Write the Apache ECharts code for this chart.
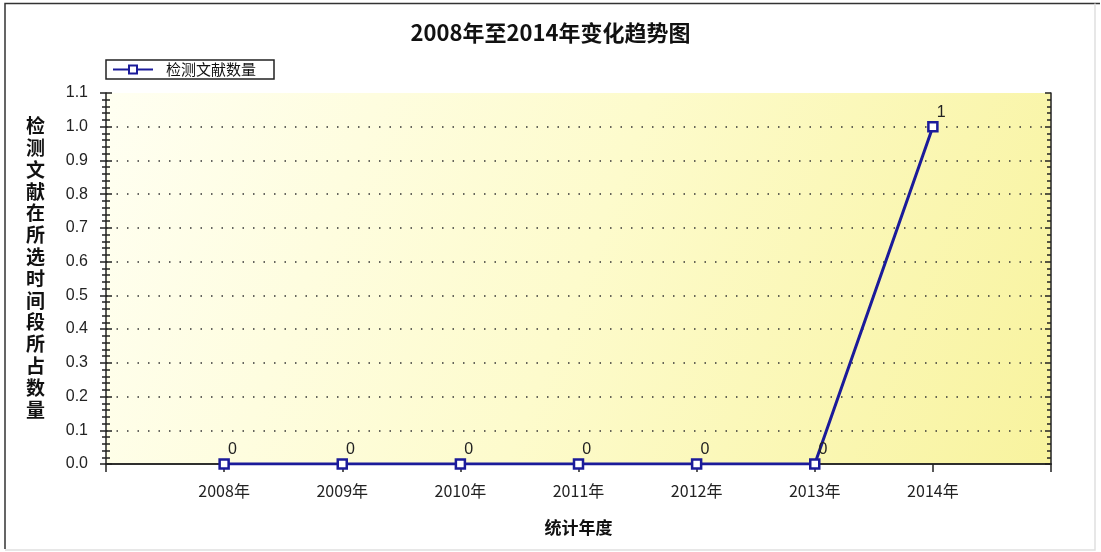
<!DOCTYPE html>
<html lang="zh-CN">
<head>
    <meta charset="UTF-8">
    <title>2008年至2014年变化趋势图</title>
    <script src="https://cdn.jsdelivr.net/npm/echarts@6/dist/echarts.min.js"></script>
    <style>
        html, body { margin: 0; padding: 0; background: #fff; }
        #main { width: 1101px; height: 552px; }
    </style>
</head>
<body>
<div id="main"></div>
<script type="text/javascript">
    // 数据
    var years = [2008, 2009, 2010, 2011, 2012, 2013, 2014];
    var counts = [0, 0, 0, 0, 0, 0, 1];
    var yTicks = ['0.0', '0.1', '0.2', '0.3', '0.4', '0.5', '0.6', '0.7', '0.8', '0.9', '1.0', '1.1'];
    var yName = '检测文献在所选时间段所占数量';

    var cjk = '"Noto Sans CJK SC", sans-serif';
    var num = '"Liberation Sans", Arial, sans-serif';

    var points = years.map(function (y, i) { return [y, counts[i]]; });

    var myChart = echarts.init(document.getElementById('main'));
    var option = {
        backgroundColor: '#fff',
        animation: false,
        title: {
            text: '2008年至2014年变化趋势图',
            left: 'center',
            top: 17,
            textStyle: { fontFamily: cjk, fontSize: 22, fontWeight: 'bold', color: '#111' }
        },
        legend: {
            left: 106,
            top: 60,
            data: ['检测文献数量'],
            itemWidth: 40,
            itemHeight: 10,
            itemGap: 4,
            padding: [2, 18, 2, 6],
            borderColor: '#222',
            borderWidth: 1.5,
            textStyle: { fontFamily: cjk, fontSize: 15, color: '#111', padding: [0, 0, 0, 8] }
        },
        graphic: [
            // 外框：左上深色，右下浅色
            {
                type: 'polyline',
                shape: { points: [[5, 549], [5, 3.5], [1100, 3.5]] },
                style: { fill: 'none', stroke: '#333', lineWidth: 1.5 },
                silent: true
            },
            {
                type: 'polyline',
                shape: { points: [[5, 550], [1095, 550], [1095, 3.5]] },
                style: { fill: 'none', stroke: '#e0e0e0', lineWidth: 1.5 },
                silent: true
            },
            {
                type: 'text',
                left: 26,
                top: 115,
                style: {
                    text: yName.split('').join('\n'),
                    fontFamily: cjk,
                    fontSize: 19,
                    fontWeight: 'bold',
                    lineHeight: 21.8,
                    fill: '#111'
                }
            }
        ],
        grid: {
            left: 106,
            right: 50,
            top: 93,
            bottom: 88,
            show: true,
            borderWidth: 0,
            backgroundColor: new echarts.graphic.LinearGradient(0, 0, 1, 1, [
                { offset: 0, color: '#fffff2' },
                { offset: 0.5, color: '#fdfbcc' },
                { offset: 1, color: '#f8f39e' }
            ])
        },
        xAxis: [
            {
                type: 'value',
                min: 2007,
                max: 2015,
                interval: 1,
                name: '统计年度',
                nameLocation: 'middle',
                nameGap: 55,
                nameTextStyle: { fontFamily: cjk, fontSize: 17, fontWeight: 'bold', color: '#111' },
                axisLine: { lineStyle: { color: '#222', width: 1.5 } },
                axisTick: { length: 8, lineStyle: { color: '#222', width: 1.5 } },
                axisLabel: {
                    margin: 19,
                    fontFamily: cjk,
                    fontSize: 16,
                    color: '#222',
                    formatter: function (v) {
                        return years.indexOf(v) >= 0 ? v + '年' : '';
                    }
                },
                splitLine: { show: false }
            },
            {
                type: 'value',
                position: 'top',
                min: 2007,
                max: 2015,
                interval: 1,
                axisLine: { show: true, lineStyle: { color: '#222', width: 1.5 } },
                axisTick: { inside: true, length: 6, lineStyle: { color: '#222', width: 1.5 } },
                axisLabel: { show: false },
                splitLine: { show: false }
            }
        ],
        yAxis: [
            {
                type: 'value',
                min: 0,
                max: 1.1,
                interval: 0.1,
                axisLine: { show: true, lineStyle: { color: '#222', width: 1.5 } },
                axisTick: { show: true, length: 6, lineStyle: { color: '#222', width: 1.5 } },
                minorTick: { show: true, splitNumber: 5, length: 4, lineStyle: { color: '#222', width: 1.5 } },
                axisLabel: {
                    margin: 18,
                    fontFamily: num,
                    fontSize: 16,
                    color: '#222',
                    formatter: function (v) { return yTicks[Math.round(v * 10)]; }
                },
                splitLine: {
                    show: true,
                    showMinLine: false,
                    showMaxLine: false,
                    lineStyle: { color: '#333', width: 1.5, type: [1.5, 9] }
                }
            },
            {
                type: 'value',
                position: 'left',
                min: 0,
                max: 1.1,
                interval: 0.1,
                axisLine: { show: false },
                axisTick: { show: true, inside: true, length: 6, lineStyle: { color: '#222', width: 1.5 } },
                minorTick: { show: true, splitNumber: 5, length: 4, lineStyle: { color: '#222', width: 1.5 } },
                axisLabel: { show: false },
                splitLine: { show: false }
            },
            {
                type: 'value',
                position: 'right',
                min: 0,
                max: 1.1,
                interval: 0.1,
                axisLine: { show: true, lineStyle: { color: '#222', width: 1.5 } },
                axisTick: { show: true, inside: true, length: 6, lineStyle: { color: '#222', width: 1.5 } },
                minorTick: { show: true, splitNumber: 5, length: 4, lineStyle: { color: '#222', width: 1.5 } },
                axisLabel: { show: false },
                splitLine: { show: false }
            }
        ],
        series: [
            {
                name: '检测文献数量',
                type: 'line',
                data: points,
                symbol: 'rect',
                symbolSize: 9,
                showAllSymbol: true,
                lineStyle: { color: '#1b1b9a', width: 3 },
                itemStyle: { color: '#ffffff', borderColor: '#1b1b9a', borderWidth: 2.5 },
                label: {
                    show: true,
                    position: 'right',
                    distance: 0,
                    offset: [-2, -14],
                    fontFamily: num,
                    fontSize: 16,
                    color: '#222'
                }
            }
        ]
    };
    myChart.setOption(option);
</script>
</body>
</html>
